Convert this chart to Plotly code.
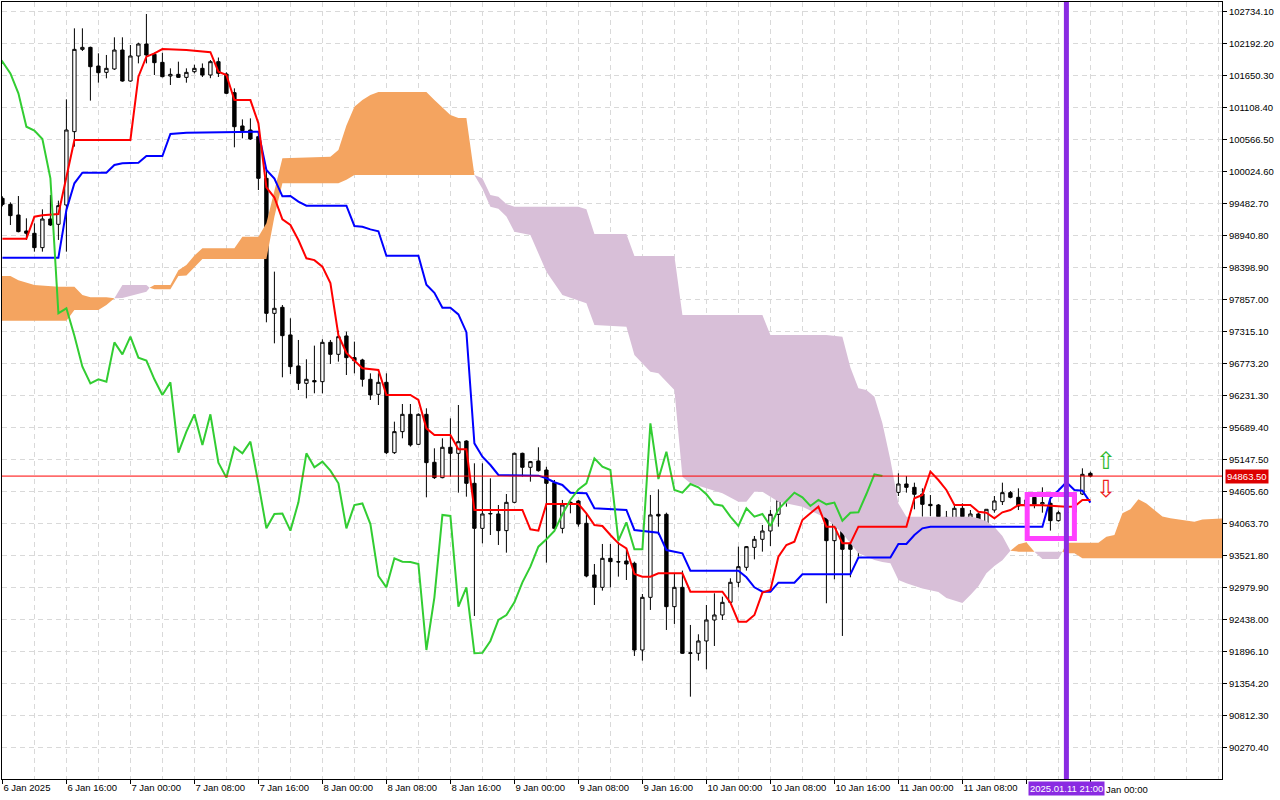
import plotly.graph_objects as go

# hourly BTC candles, hour 0 = 6 Jan 2025 00:00
hours = list(range(8, 145))
opens = [
    99566, 99464, 99284, 99013, 98974, 98731, 99216, 99126,
    99453, 100695, 102088, 102122, 101806, 101699, 101756, 102077,
    101552, 101976, 102179, 102004, 101868, 101637, 101665, 101614,
    101710, 101767, 101654, 101880, 101671, 101355, 100791, 100723,
    100610, 99905, 97619, 97721, 97253, 96728, 96434, 96480,
    96462, 97128, 96925, 97236, 96869, 96829, 96502, 96248,
    96451, 95260, 95616, 95909, 95401, 95909, 95097, 94837,
    95351, 95249, 95457, 94741, 93979, 94222, 94222, 93940,
    94419, 95249, 95012, 95119, 94966, 94752, 93979, 94420,
    94442, 94064, 93189, 92980, 93471, 93415, 93426, 93387,
    91919, 92811, 94216, 94216, 92653, 92980, 91863, 91863,
    92072, 92427, 92512, 92726, 93065, 93319, 93657, 93793,
    93934, 94216, 94459, 94639, 94741, 95164, 95034, 94984,
    93770, 94081, 93708, 93624, 95757, 94814, 95288, 94639,
    94588, 94730, 94673, 94560, 94385, 94374, 94165, 94019,
    94318, 94165, 94222, 94019, 94289, 94431, 94583, 94504,
    94357, 94504, 94391, 94402, 94109, 94244, 94250, 94560,
    94910,
]
highs = [
    99600, 99498, 99605, 99228, 99143, 99380, 99622, 99527,
    101242, 102444, 102444, 102134, 102021, 101993, 102292, 102292,
    102162, 102201, 102687, 102032, 102032, 101767, 101880, 101767,
    101830, 101850, 101908, 101950, 101700, 101428, 100903, 100920,
    100695, 100046, 98325, 97760, 97535, 97168, 96841, 97072,
    97179, 97168, 97326, 97309, 97140, 96850, 96603, 96603,
    96603, 95785, 96084, 96084, 95926, 96011, 95334, 95503,
    95841, 96067, 95470, 95080, 95080, 94826, 94374, 94560,
    95260, 95260, 95120, 95351, 95023, 94797, 94459, 94459,
    94459, 94233, 93375, 93714, 93714, 93753, 93641, 93415,
    92867, 94544, 94639, 94244, 93206, 93263, 92343, 92185,
    92681, 92879, 92822, 93133, 93669, 93680, 93849, 94036,
    94289, 94967, 94780, 94938, 95232, 95204, 95080, 94995,
    94639, 94504, 93753, 95813, 95770, 95333, 95429, 94938,
    94910, 94865, 94752, 94656, 94543, 94391, 94273, 94357,
    94402, 94289, 94244, 94301, 94526, 94752, 94611, 94656,
    94520, 94515, 94673, 94504, 94278, 94350, 94580, 94995,
    94938,
]
lows = [
    99430, 99115, 98990, 98861, 98663, 98663, 99098, 98861,
    98663, 100441, 102060, 101220, 101524, 101598, 101739, 101541,
    101541, 101851, 101851, 101654, 101614, 101485, 101610, 101524,
    101680, 101620, 101600, 101620, 101330, 100430, 100582, 100554,
    99707, 97467, 97111, 96536, 96592, 96321, 96180, 96265,
    96265, 96762, 96801, 96575, 96603, 96378, 96152, 96067,
    95238, 95238, 95503, 95362, 95390, 94504, 94814, 94826,
    94854, 94583, 94515, 92495, 93725, 93866, 93697, 93567,
    94402, 94854, 94769, 94938, 93398, 93950, 93894, 94233,
    94007, 93150, 92681, 92924, 92980, 93161, 93104, 91818,
    91739, 92597, 93866, 92258, 92360, 91852, 91129, 91739,
    91592, 91987, 92427, 92710, 92980, 93263, 93454, 93584,
    93680, 94007, 94346, 94572, 94713, 94572, 94713, 92710,
    93116, 92157, 93150, 93500, 94797, 94346, 94526, 94572,
    94526, 94583, 94301, 94177, 94188, 94064, 93810, 93962,
    94160, 94092, 94007, 94010, 94244, 94374, 94487, 94289,
    94330, 94318, 94244, 93940, 94092, 94150, 94230, 94543,
    94842,
]
closes = [
    99464, 99273, 99002, 98974, 98731, 99216, 99115, 99442,
    100723, 102088, 102122, 101795, 101693, 101767, 102077, 101552,
    101976, 102179, 101993, 101863, 101626, 101665, 101614, 101699,
    101767, 101654, 101880, 101682, 101344, 100779, 100712, 100571,
    99905, 97619, 97704, 97241, 96716, 96434, 96502, 96460,
    97128, 96925, 97224, 96869, 96818, 96502, 96237, 96451,
    95260, 95616, 95909, 95390, 95909, 95091, 94837, 95351,
    95249, 95446, 94741, 93979, 94222, 94230, 93940, 94419,
    95249, 95012, 95108, 94955, 94741, 93979, 94374, 94400,
    94052, 93172, 92980, 93471, 93415, 93410, 93375, 91919,
    92811, 94205, 94188, 92653, 92980, 91863, 91870, 92072,
    92427, 92512, 92726, 93065, 93330, 93669, 93793, 93934,
    94216, 94459, 94639, 94741, 95164, 95023, 94967, 93770,
    94081, 93624, 93624, 95757, 94814, 95277, 94628, 94583,
    94730, 94673, 94555, 94385, 94363, 94177, 94019, 94318,
    94177, 94222, 94019, 94301, 94442, 94583, 94504, 94357,
    94460, 94385, 94414, 94109, 94244, 94250, 94560, 94893,
    94863.5,
]

# Tenkan-sen (red) turning points
tenkan_hours = [
    8, 11, 12, 13, 15, 16, 17, 24, 25, 26, 27, 28, 31, 34, 35, 36, 37, 39, 40, 41,
    42, 43, 44, 45, 46, 47, 48, 49, 50, 51, 52, 53, 55, 56, 59, 60, 61, 62, 64, 65,
    66, 67, 73, 74, 75, 76, 80, 81, 82, 83, 84, 85, 86, 87, 88, 89, 90, 93, 94, 98,
    99, 100, 101, 102, 103, 104, 105, 106, 107, 108, 109, 110, 111, 112, 113, 114, 115, 121, 122, 123,
    124, 125, 126, 127, 129, 130, 131, 132, 133, 134, 135, 138, 141, 142, 143, 144,
]
tenkan_vals = [
    98882, 98882, 99255, 99280, 99300, 99932, 100554, 100554, 101626, 101964,
    102021, 102094, 102077, 102040, 101710, 101654, 101230, 101230, 100836, 99750,
    99580, 99210, 99115, 98860, 98550, 98520, 98410, 98130, 97250, 96950,
    96820, 96690, 96660, 96236, 96236, 96152, 95672, 95559, 95559, 95317,
    95317, 94290, 94290, 93962, 93940, 94391, 94391, 94233, 94036, 94019,
    93866, 93725, 93641, 93206, 93161, 93161, 93217, 93217, 92907, 92907,
    92720, 92399, 92399, 92512, 92890, 92935, 93499, 93697, 93753, 94120,
    94233, 94346, 94007, 94007, 93725, 93725, 94007, 94007, 94487, 94543,
    94938, 94797, 94628, 94374, 94374, 94261, 94244, 94148, 94250, 94289,
    94374, 94370, 94346, 94350, 94460, 94460,
]

# Kijun-sen (blue) turning points
kijun_hours = [
    8, 15, 16, 17, 18, 21, 22, 23, 25, 26, 28, 29, 31, 40, 41, 42, 43, 44, 45, 46,
    51, 52, 53, 54, 55, 56, 60, 61, 62, 63, 64, 65, 66, 67, 68, 69, 70, 75, 76, 77,
    78, 79, 81, 82, 86, 87, 90, 91, 93, 94, 100, 101, 102, 103, 104, 105, 107, 108, 114, 115,
    119, 120, 121, 122, 123, 124, 138, 139, 140, 141, 142, 143, 144,
]
kijun_vals = [
    98562, 98562, 99369, 99820, 100001, 100001, 100130, 100159, 100170, 100283,
    100283, 100655, 100678, 100695, 100046, 99900, 99600, 99606, 99510, 99442,
    99442, 99098, 99086, 99040, 99008, 98594, 98594, 98102, 97966, 97712,
    97712, 97600, 97300, 95418, 95192, 95051, 94882, 94871, 94826, 94760,
    94713, 94583, 94572, 94318, 94290, 93951, 93906, 93612, 93556, 93262,
    93262, 93150, 92980, 92907, 92907, 93059, 93059, 93200, 93200, 93483,
    93483, 93714, 93714, 93866, 93979, 94007, 94007, 94487, 94620, 94760,
    94628, 94617, 94414,
]

# Senkou spans (already shifted 26 bars ahead)
cloud_hours = [
    7, 9, 10, 12, 15, 16, 17, 18, 19, 20,
    21, 22, 23, 26, 26.4, 27, 29, 30, 31, 32,
    33, 37, 38, 40, 41, 42, 43, 49, 50, 51,
    52, 53, 54, 55, 61, 62, 63, 64, 65, 66,
    67, 68, 69, 70, 71, 72, 74, 76, 78, 80,
    81, 82, 86, 87, 89, 90, 92, 93, 94, 98,
    100, 101, 102, 103, 104, 105, 108, 111, 113, 114,
    115, 116, 117, 118, 119, 120, 121, 123, 125, 126,
    127, 128, 129, 130, 131, 132, 133, 134, 135, 136,
    137, 138, 140, 140.5, 141, 142, 143, 145, 146, 147,
    148, 149, 150, 151, 152, 153, 154, 156, 157, 158,
    161,
]
span_a = [
    98251, 98251, 98180, 98099, 98070, 98070, 98070, 97929, 97890, 97890,
    97890, 97875, 97878, 97986, 98050, 98099, 98099, 98350, 98437, 98600,
    98720, 98720, 98917, 98917, 99143, 99707, 100243, 100271, 100384, 100800,
    101118, 101230, 101315, 101366, 101366, 101231, 101100, 100977, 100926, 100926,
    99961, 99729, 99424, 99390, 99260, 99001, 98945, 98324, 97929, 97845,
    97790, 97421, 97393, 96913, 96631, 96603, 96321, 94853, 94741, 94572,
    94430, 94430, 94600, 94600, 94520, 94430, 94345, 94150, 93894, 93720,
    93556, 93500, 93443, 93410, 93387, 93104, 93050, 92960, 92900, 92800,
    92760, 92715, 92850, 93000, 93220, 93340, 93440, 93600, 93710, 93745,
    93584, 93460, 93460, 93584, 93736, 93736, 93736, 93736, 93837, 93866,
    94233, 94300, 94470, 94400, 94290, 94180, 94150, 94110, 94091, 94130,
    94149,
]
span_b = [
    97494, 97494, 97494, 97494, 97494, 97494, 97675, 97675, 97675, 97675,
    97760, 97875, 98099, 98099, 98050, 98026, 98026, 98250, 98260, 98400,
    98539, 98539, 98539, 98539, 98539, 99256, 99820, 99820, 99820, 99880,
    99961, 99961, 99961, 99961, 99961, 99961, 99961, 99961, 99961, 99961,
    99961, 99905, 99622, 99593, 99470, 99424, 99424, 99424, 99424, 99424,
    99380, 98962, 98962, 98590, 98590, 98590, 98590, 97591, 97591, 97591,
    97591, 97591, 97591, 97591, 97252, 97252, 97252, 97252, 97223, 96700,
    96350, 96321, 96207, 95760, 95136, 94400, 94176, 94176, 94176, 94176,
    94176, 94176, 94176, 94150, 94100, 94000, 93850, 93600, 93584, 93584,
    93584, 93584, 93584, 93584, 93556, 93556, 93471, 93471, 93471, 93471,
    93471, 93471, 93471, 93471, 93471, 93471, 93471, 93471, 93471, 93471,
    93471,
]

chikou_shift = 26
last_price = 94863.5

# axis labels; 11 Jan 16:00 and 12 Jan 00:00 sit under the vertical-line label
tick_hours = [8, 16, 24, 32, 40, 48, 56, 64, 72, 80, 88, 96, 104, 112, 120, 128, 136, 144]
tick_labels = [
    "6 Jan 2025", "6 Jan 16:00", "7 Jan 00:00", "7 Jan 08:00", "7 Jan 16:00",
    "8 Jan 00:00", "8 Jan 08:00", "8 Jan 16:00", "9 Jan 00:00", "9 Jan 08:00",
    "9 Jan 16:00", "10 Jan 00:00", "10 Jan 08:00", "10 Jan 16:00", "11 Jan 00:00",
    "11 Jan 08:00", "", "",
]
partial_label = "Jan 00:00"
price_ticks = [
    90270.40, 90812.30, 91354.20, 91896.10, 92438.00, 92979.90, 93521.80, 94063.70,
    94605.60, 95147.50, 95689.40, 96231.30, 96773.20, 97315.10, 97857.00, 98398.90,
    98940.80, 99482.70, 100024.60, 100566.50, 101108.40, 101650.30, 102192.20, 102734.10,
]

# chart objects
vline_hour = 141
vline_label = "2025.01.11 21:00"
rect_hours = (136.1, 142.0)
rect_prices = (93807, 94552)
arrow_hour = 146
arrow_up_price = 95127
arrow_down_price = 94637

GRID = "#d9d9d9"
ORANGE = "#f4a460"
THISTLE = "#d8bfd8"
FONT = "Liberation Sans"

fig = go.Figure()

# cloud: split into runs at the crossing points (a == b)
runs, cur = [], [0]
for i in range(1, len(cloud_hours)):
    cur.append(i)
    if span_a[i] == span_b[i] and i < len(cloud_hours) - 1:
        runs.append(cur)
        cur = [i]
runs.append(cur)

for run in runs:
    up = sum(span_a[i] - span_b[i] for i in run) > 0
    xs = [cloud_hours[i] for i in run] + [cloud_hours[i] for i in reversed(run)]
    ys = [span_a[i] for i in run] + [span_b[i] for i in reversed(run)]
    fig.add_trace(go.Scatter(
        x=xs, y=ys, mode="lines", fill="toself",
        fillcolor=ORANGE if up else THISTLE,
        line=dict(width=0), hoverinfo="skip",
    ))

fig.add_trace(go.Candlestick(
    x=hours, open=opens, high=highs, low=lows, close=closes,
    increasing=dict(line=dict(color="black", width=1), fillcolor="white"),
    decreasing=dict(line=dict(color="black", width=1), fillcolor="black"),
    whiskerwidth=0, hoverinfo="skip",
))

fig.add_trace(go.Scatter(x=kijun_hours, y=kijun_vals, mode="lines",
                         line=dict(color="#0000ff", width=2), hoverinfo="skip"))
fig.add_trace(go.Scatter(x=tenkan_hours, y=tenkan_vals, mode="lines",
                         line=dict(color="#ff0000", width=2), hoverinfo="skip"))
fig.add_trace(go.Scatter(x=[h - chikou_shift for h in hours], y=closes, mode="lines",
                         line=dict(color="#32cd32", width=2), hoverinfo="skip"))

# current price line
fig.add_shape(type="line", xref="paper", x0=0, x1=1, y0=last_price, y1=last_price,
              line=dict(color="#ff0000", width=1))
# highlight box and vertical line
fig.add_shape(type="rect", x0=rect_hours[0], x1=rect_hours[1],
              y0=rect_prices[0], y1=rect_prices[1],
              line=dict(color="#ff40ff", width=5))
fig.add_shape(type="line", x0=vline_hour, x1=vline_hour, yref="paper", y0=0, y1=1,
              line=dict(color="#8a2be2", width=5))

fig.add_annotation(x=1, xref="paper", xanchor="left", xshift=3,
                   y=last_price, yref="y", text=f"{last_price:.2f}",
                   showarrow=False, bgcolor="#dd0000", borderpad=1,
                   font=dict(color="white", size=9.5, family=FONT))
fig.add_annotation(x=vline_hour, xref="x", y=0, yref="paper", yanchor="top", yshift=-2,
                   text=vline_label, showarrow=False, bgcolor="#8a2be2", borderpad=1,
                   font=dict(color="white", size=9.5, family=FONT))
fig.add_annotation(x=vline_hour + 4.7, xref="x", xanchor="left", y=0, yref="paper",
                   yanchor="top", yshift=-3, text=partial_label, showarrow=False,
                   font=dict(color="black", size=9.5, family=FONT))
fig.add_annotation(x=arrow_hour, y=arrow_up_price, text="\u21e7", showarrow=False,
                   font=dict(color="#2fb82f", size=24, family="DejaVu Sans"))
fig.add_annotation(x=arrow_hour, y=arrow_down_price, text="\u21e9", showarrow=False,
                   font=dict(color="#ee2020", size=24, family="DejaVu Sans"))

fig.update_layout(
    template="none",
    width=1280, height=800,
    margin=dict(l=2, r=58, t=2, b=21),
    paper_bgcolor="white", plot_bgcolor="white",
    showlegend=False,
    boxgap=0.4,
    hovermode=False,
    font=dict(family=FONT, size=9.5, color="black"),
    xaxis=dict(
        range=[7.95, 160.45],
        tickmode="array", tickvals=tick_hours, ticktext=tick_labels,
        ticks="outside", ticklen=4, tickcolor="black",
        ticklabelposition="outside right",
        showgrid=True, gridcolor=GRID, griddash="5px,4px", gridwidth=1,
        minor=dict(tick0=8, dtick=4, showgrid=True, gridcolor=GRID,
                   griddash="5px,4px", ticks=""),
        showline=True, linecolor="black", linewidth=1, mirror=True,
        zeroline=False, rangeslider=dict(visible=False),
    ),
    yaxis=dict(
        side="right",
        range=[89735, 102890],
        tickmode="array", tickvals=price_ticks,
        ticktext=[f"{v:.2f}" for v in price_ticks],
        ticks="outside", ticklen=4, tickcolor="black",
        showgrid=True, gridcolor=GRID, griddash="5px,4px", gridwidth=1,
        showline=True, linecolor="black", linewidth=1, mirror=True,
        zeroline=False,
    ),
)

fig.write_html("out.html", config={"displayModeBar": False},
               post_script="document.body.style.margin='0px';")
